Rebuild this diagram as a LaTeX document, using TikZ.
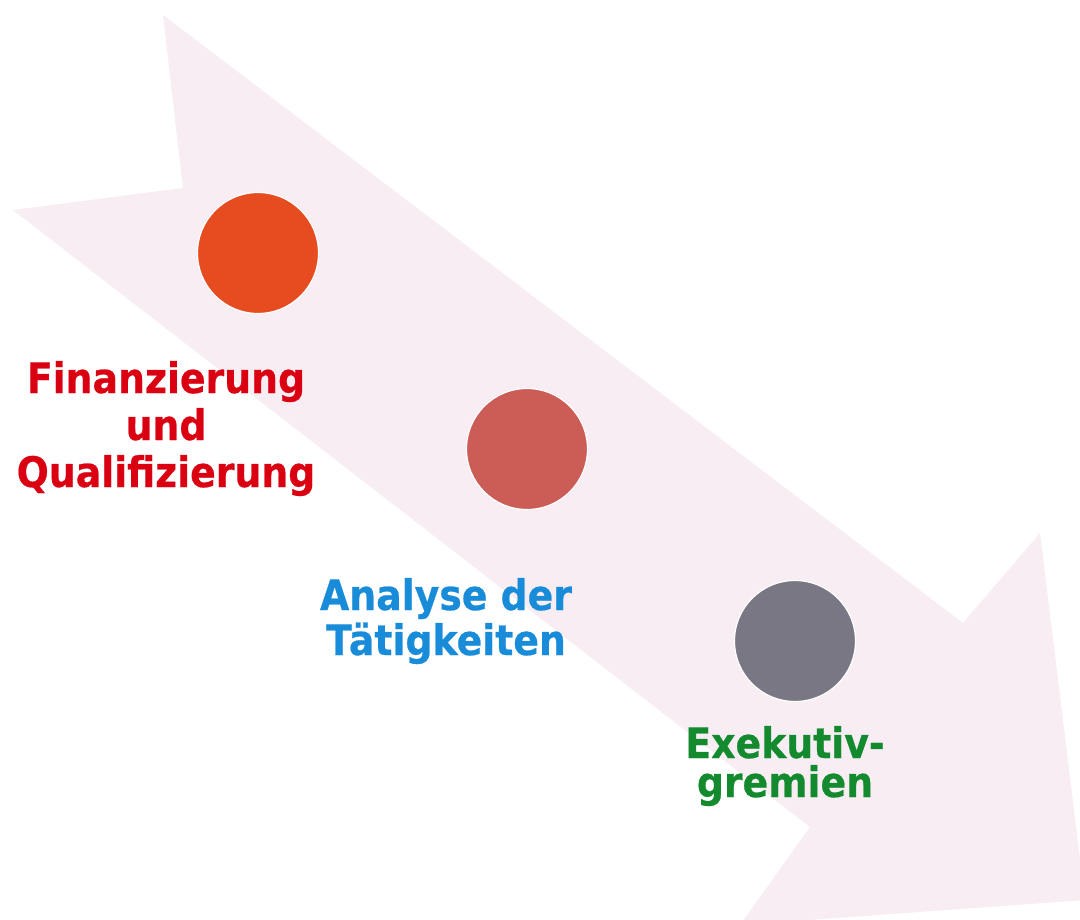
\documentclass[tikz,border=0pt]{standalone}
\usepackage{fontspec}
\setmainfont{DejaVu Sans}
\newfontfamily\lblfont[FakeStretch=0.9,FakeBold=0.5]{DejaVu Sans}
\definecolor{arrowpink}{RGB}{247,237,242}
\definecolor{dotorange}{RGB}{230,76,32}
\definecolor{dotred}{RGB}{204,92,86}
\definecolor{dotgray}{RGB}{122,119,133}
\definecolor{txtred}{RGB}{218,0,18}
\definecolor{txtblue}{RGB}{24,140,216}
\definecolor{txtgreen}{RGB}{20,138,46}
\begin{document}
\begin{tikzpicture}[x=1pt,y=-1pt,
  dot/.style={circle,minimum size=121pt,inner sep=0pt,draw=white,line width=1.2pt},
  label/.style={align=center,inner sep=0pt,anchor=base}]
\useasboundingbox (0,0) rectangle (1080,920);
\fill[white] (0,0) rectangle (1080,920);
\begin{scope}
\clip (0,0) rectangle (1080,920);
\fill[arrowpink] (163,15) -- (963,623) -- (1040,533) -- (1085,900) -- (740,925)
  -- (810,827) -- (13,210) -- (183,188) -- cycle;
\end{scope}
\node[dot,fill=dotorange] (d1) at (258,253) {};
\node[dot,fill=dotred] (d2) at (527,449) {};
\node[dot,fill=dotgray] (d3) at (795,641) {};
\node[label,text=txtred,font=\lblfont\fontsize{42}{47}\selectfont\bfseries] (t1) at (166,487) {Finanzierung\\und\\Qualifizierung};
\node[label,text=txtblue,font=\lblfont\fontsize{42}{45}\selectfont\bfseries] (t2) at (446,655) {Analyse der\\Tätigkeiten};
\node[label,text=txtgreen,font=\lblfont\fontsize{42}{39}\selectfont\bfseries] (t3) at (785,797) {Exekutiv-\\gremien};
\end{tikzpicture}
\end{document}
